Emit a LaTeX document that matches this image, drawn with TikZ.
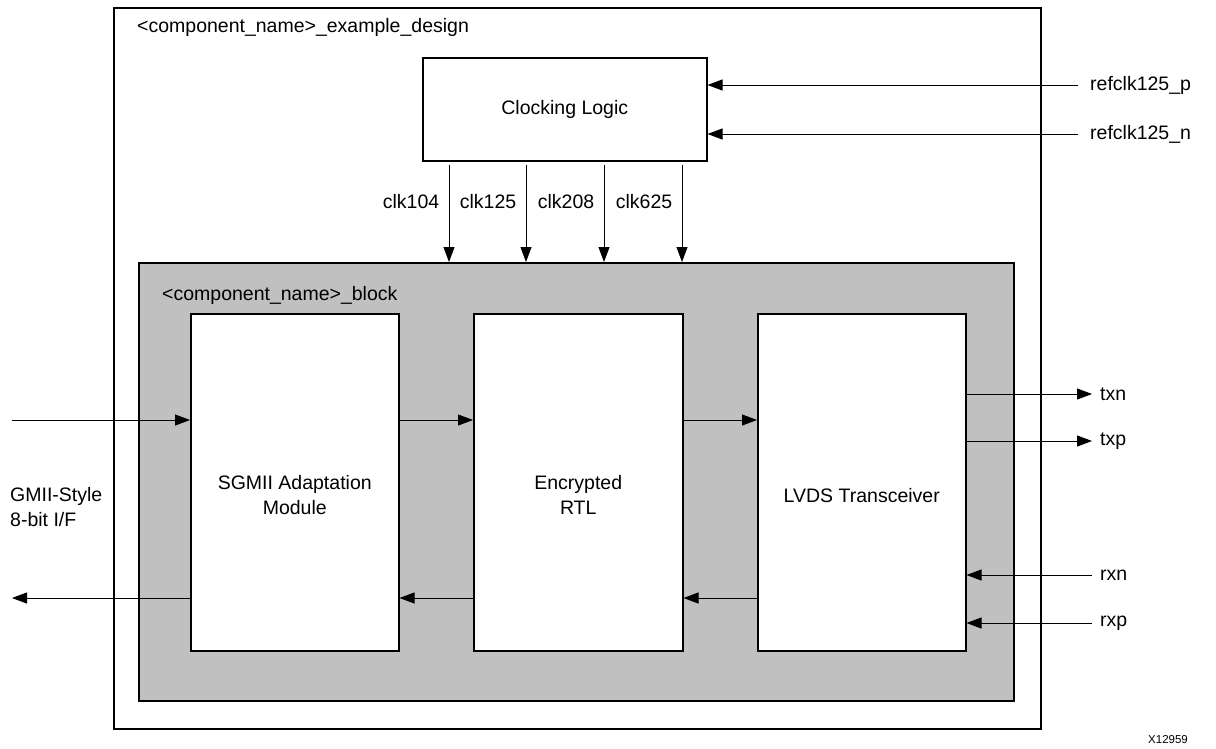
\documentclass[tikz,border=0pt]{standalone}
\usepackage{fontspec}
\setmainfont{Liberation Sans}
\usetikzlibrary{arrows.meta}
\definecolor{blockgray}{RGB}{192,192,192}
\tikzset{
  box/.style={draw, line width=1.5pt, anchor=north west, inner sep=0pt},
  sig/.style={-{Triangle[length=15pt,width=11pt]}, line width=0.9pt},
  pin/.style={anchor=west, inner sep=0pt}
}
\begin{document}
\begin{tikzpicture}[x=1pt,y=-1pt,font=\fontsize{19.5}{25}\selectfont]
\useasboundingbox (0,0) rectangle (1216,748);
% outer design and clocking
\node[box, minimum width=927pt, minimum height=721pt] (design) at (113,7) {};
\node[pin] (designlbl) at (137,27) {<component\_name>\_example\_design};
\node[box, minimum width=284pt, minimum height=103pt] (clock) at (422,57) {};
\node (clocklbl) at (clock.center) {Clocking Logic};
% block
\node[box, fill=blockgray, minimum width=875pt, minimum height=438pt] (block) at (138,262) {};
\node[pin] (blocklbl) at (162,295) {<component\_name>\_block};
\node[box, fill=white, minimum width=208pt, minimum height=337pt] (sgmii) at (190,313) {};
\node[box, fill=white, minimum width=209pt, minimum height=337pt] (rtl) at (473,313) {};
\node[box, fill=white, minimum width=208pt, minimum height=337pt] (lvds) at (757,313) {};
\node[align=center] (sgmiilbl) at ([yshift=-13pt]sgmii.center) {SGMII Adaptation\\Module};
\node[align=center] (rtllbl) at ([yshift=-13pt]rtl.center) {Encrypted\\RTL};
\node (lvdslbl) at ([yshift=-13pt]lvds.center) {LVDS Transceiver};
% clocks
\foreach \xx/\lbl in {449/clk104,526/clk125,604/clk208,682/clk625}
  \draw[sig, shorten <=3pt] (clock.south -| \xx,0) -- node[pos=0.4, left=6pt]{\lbl} (block.north -| \xx,0);
% reference clock inputs
\coordinate (refp) at (1078,85);
\coordinate (refn) at (1078,134);
\draw[sig] (refp) -- (clock.east |- refp);
\draw[sig] (refn) -- (clock.east |- refn);
\node[pin] (refplbl) at (1090,85) {refclk125\_p};
\node[pin] (refnlbl) at (1090,134) {refclk125\_n};
% data path
\coordinate (gin) at (12,420);
\coordinate (gout) at (12,598);
\draw[sig] (gin) -- (sgmii.west |- gin);
\draw[sig] (sgmii.east |- gin) -- (rtl.west |- gin);
\draw[sig] (rtl.east |- gin) -- (lvds.west |- gin);
\draw[sig] (lvds.west |- gout) -- (rtl.east |- gout);
\draw[sig] (rtl.west |- gout) -- (sgmii.east |- gout);
\draw[sig] (sgmii.west |- gout) -- (gout);
\node[pin, align=left] (gmiilbl) at (10,507) {GMII-Style\\8-bit I/F};
% serial pins
\foreach \yy/\lbl/\nm in {394/txn/txn,441/txp/txp}{
  \coordinate (\nm) at (1092,\yy);
  \draw[sig] (lvds.east |- \nm) -- (\nm);
  \node[pin] (\nm lbl) at (1100,\yy) {\lbl};
}
\foreach \yy/\lbl/\nm in {575/rxn/rxn,623/rxp/rxp}{
  \coordinate (\nm) at (1092,\yy);
  \draw[sig] (\nm) -- (lvds.east |- \nm);
  \node[pin] (\nm lbl) at (1100,\yy) {\lbl};
}
\node[font=\fontsize{11.5}{14}\selectfont] (fignum) at (1168,740) {X12959};
\end{tikzpicture}
\end{document}
